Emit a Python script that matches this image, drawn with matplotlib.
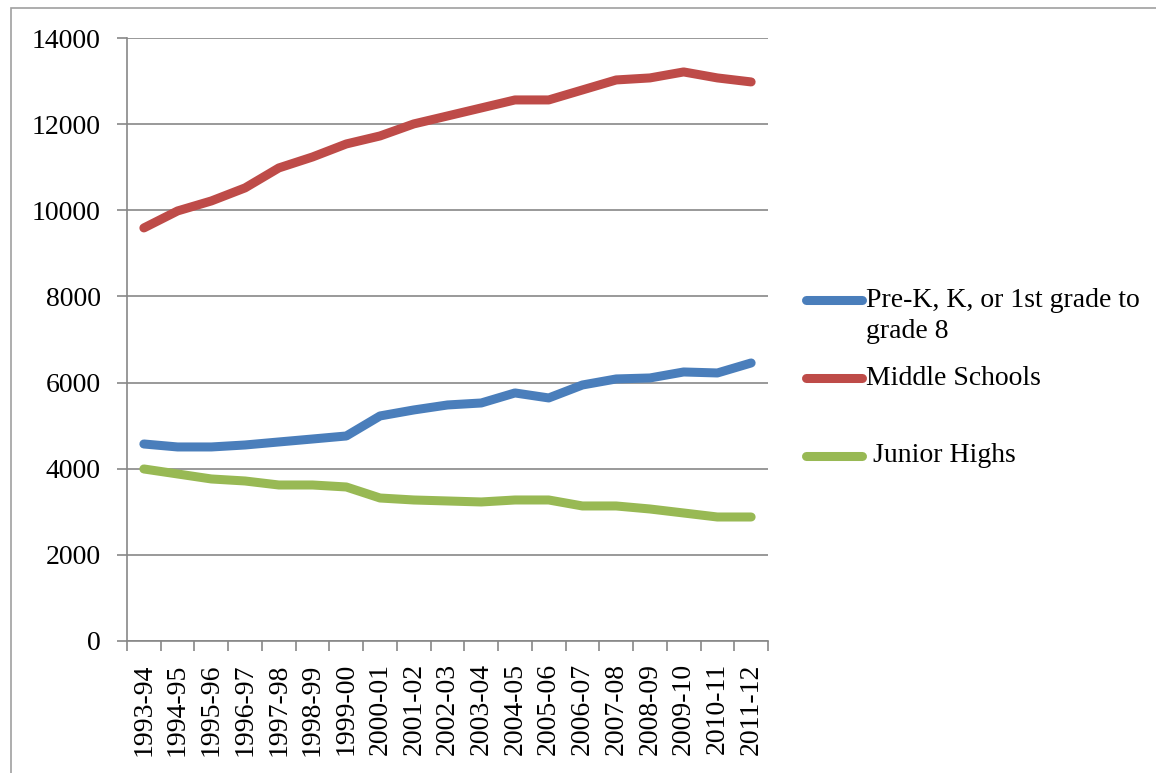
import numpy as np
import matplotlib
matplotlib.use("Agg")
import matplotlib.pyplot as plt
from matplotlib.lines import Line2D
from matplotlib.patches import Rectangle

# school years
years = ['1993-94', '1994-95', '1995-96', '1996-97', '1997-98', '1998-99',
         '1999-00', '2000-01', '2001-02', '2002-03', '2003-04', '2004-05',
         '2005-06', '2006-07', '2007-08', '2008-09', '2009-10', '2010-11',
         '2011-12']

prek_to_8 = [4574, 4505, 4505, 4551, 4621, 4690, 4760, 5225, 5364, 5480,
             5526, 5759, 5643, 5944, 6084, 6107, 6246, 6223, 6455]
middle = [9590, 9985, 10217, 10520, 10983, 11238, 11540, 11726, 12005,
          12190, 12376, 12562, 12562, 12794, 13026, 13073, 13212, 13073,
          12980]
junior = [3994, 3878, 3762, 3715, 3622, 3622, 3576, 3320, 3274, 3251,
          3228, 3274, 3274, 3135, 3135, 3065, 2972, 2879, 2879]

labels = ['Pre-K, K, or 1st grade to\ngrade 8', 'Middle Schools', ' Junior Highs']
colors = ['#4A7EBB', '#BE4B48', '#98B954']

plt.rcParams['font.family'] = ['Liberation Serif', 'DejaVu Serif']
GRAY = '#878787'
FS = 20

fig = plt.figure(figsize=(11.56, 7.73), dpi=100)
W, H = 1156., 773.
ax = fig.add_axes([127/W, 1-641/H, (768-127)/W, (641-38)/H])

x = np.arange(len(years))
for vals, c in zip([prek_to_8, middle, junior], colors):
    ax.plot(x, vals, color=c, lw=6.5, solid_capstyle='round',
            solid_joinstyle='round')

ax.set_xlim(-0.5, len(years)-0.5)
ax.set_ylim(0, 14000)
ax.set_yticks(np.arange(0, 14001, 2000))
ax.yaxis.grid(True, color=GRAY, lw=1.2)
ax.set_axisbelow(True)

ax.set_xticks(x)
ax.set_xticklabels(years, rotation=90, va='top')
ax.set_xticks(np.arange(-0.5, len(years), 1), minor=True)
ax.tick_params(axis='x', which='major', length=0, pad=16, labelsize=FS)
ax.tick_params(axis='x', which='minor', length=7, color=GRAY, width=1.2)
ax.tick_params(axis='y', length=7, color=GRAY, width=1.2, pad=12,
               labelsize=FS)

for s in ['top', 'right']:
    ax.spines[s].set_visible(False)
for s in ['left', 'bottom']:
    ax.spines[s].set_color(GRAY)
    ax.spines[s].set_linewidth(1.2)

# legend drawn by hand to keep the original spacing
leg_y = [300, 378, 456]
text_y = [316, 378, 456]
for c, lab, ly, ty in zip(colors, labels, leg_y, text_y):
    fig.add_artist(Line2D([806/W, 862/W], [1-ly/H, 1-ly/H], color=c, lw=6.5,
                          solid_capstyle='round', transform=fig.transFigure))
    fig.text(866/W, 1-ty/H, lab, fontsize=FS, va='center', ha='left',
             linespacing=1.35)

# chart border
fig.add_artist(Rectangle((11/W, -0.01), 1.0, 1-8/H+0.01, fill=False,
                         edgecolor='#A0A0A0', lw=1.2, transform=fig.transFigure))

plt.savefig('out.png', dpi=100)
